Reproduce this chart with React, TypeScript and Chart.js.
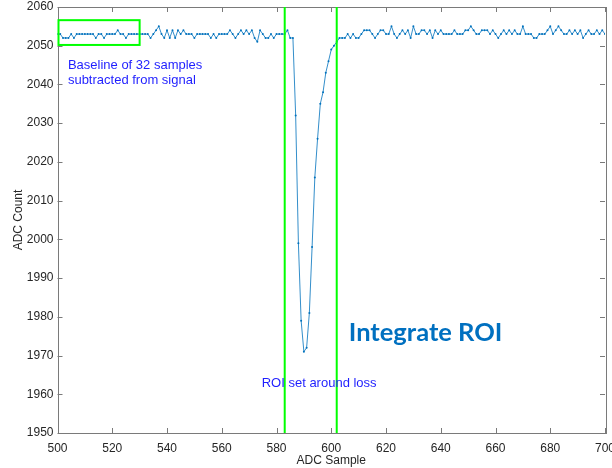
import { useEffect, useRef } from 'react';
import { Chart, registerables } from 'chart.js';

Chart.register(...registerables);

// ---- data ----
const FIRST_SAMPLE = 500;

const baselineCounts = [
  2053, 2053, 2052, 2052, 2052, 2053, 2052, 2053, 2053, 2053,
  2053, 2053, 2053, 2053, 2052, 2053, 2053, 2052, 2053, 2053,
  2053, 2053, 2054, 2053, 2053, 2052, 2053, 2053, 2053, 2053,
  2053, 2053,
];

const preLossCounts = [
  2053, 2053, 2052, 2053, 2054, 2055, 2053, 2052, 2054, 2052,
  2054, 2052, 2054, 2053, 2054, 2053, 2053, 2053, 2052, 2053,
  2053, 2053, 2053, 2053, 2052, 2053, 2052, 2053, 2053, 2053,
  2053, 2054, 2053,
  2052, 2053, 2054, 2053, 2054, 2053, 2054, 2052, 2051, 2054,
  2053, 2052, 2052, 2053, 2052, 2053, 2053, 2053, 2053, 2054,
  2052, 2052,
];

const lossCounts = [
  2032, 1999, 1979, 1971, 1972, 1981, 1998, 2016, 2026, 2035,
  2038, 2043, 2046, 2049, 2050, 2051,
];

const postLossCounts = [
  2052, 2052, 2052, 2053, 2052, 2053, 2052, 2052, 2053, 2054,
  2054, 2054, 2053, 2052, 2053, 2054, 2054, 2053, 2053, 2055,
  2053, 2052, 2053, 2054, 2053, 2054, 2052, 2055, 2053, 2053,
  2054,
  2054, 2053, 2054, 2052, 2054, 2053, 2054, 2053, 2053, 2053,
  2053, 2054, 2053, 2053, 2053, 2054, 2054, 2055, 2054, 2053,
  2053, 2054, 2054, 2054, 2053, 2054, 2053, 2052, 2053, 2054,
  2053, 2054, 2053,
  2054, 2053, 2053, 2055, 2053, 2053, 2053, 2052, 2052, 2053,
  2053, 2053, 2054, 2055, 2053, 2054, 2055, 2054, 2053, 2053,
  2054, 2053, 2054, 2053, 2054, 2052, 2053, 2054, 2053, 2053,
  2054, 2053, 2054, 2053,
];

const adcCounts = [...baselineCounts, ...preLossCounts, ...lossCounts, ...postLossCounts];

const xTickValues = [500, 520, 540, 560, 580, 600, 620, 640, 660, 680, 700];
const yTickValues = [1950, 1960, 1970, 1980, 1990, 2000, 2010, 2020, 2030, 2040, 2050, 2060];

const roiBounds = [583, 602];
const baselineBoxX = [500, 530];
const baselineBoxY = [2050.2, 2056.6];

// ---- styles ----
const AXIS_COLOR = '#7a7a7a';
const TEXT_COLOR = '#262626';
const LINE_COLOR = 'rgba(0,114,189,0.8)';
const POINT_COLOR = '#0072BD';
const GREEN = '#00ff00';
const NOTE_BLUE = '#1f1fff';
const FONT = '"Liberation Sans", Arial, sans-serif';

const annotationPlugin = {
  id: 'annotations',
  afterDatasetsDraw(chart: any) {
    const { ctx, chartArea, scales } = chart;
    const xs = scales.x;
    const ys = scales.y;
    ctx.save();

    // axes box
    ctx.strokeStyle = AXIS_COLOR;
    ctx.lineWidth = 1;
    ctx.strokeRect(
      Math.round(chartArea.left) + 0.5,
      Math.round(chartArea.top) + 0.5,
      Math.round(chartArea.right - chartArea.left),
      Math.round(chartArea.bottom - chartArea.top)
    );
    // inner ticks
    const tl = 5;
    ctx.beginPath();
    xTickValues.forEach((v) => {
      const px = Math.round(xs.getPixelForValue(v)) + 0.5;
      ctx.moveTo(px, chartArea.bottom);
      ctx.lineTo(px, chartArea.bottom - tl);
      ctx.moveTo(px, chartArea.top);
      ctx.lineTo(px, chartArea.top + tl);
    });
    yTickValues.forEach((v) => {
      const py = Math.round(ys.getPixelForValue(v)) + 0.5;
      ctx.moveTo(chartArea.left, py);
      ctx.lineTo(chartArea.left + tl, py);
      ctx.moveTo(chartArea.right, py);
      ctx.lineTo(chartArea.right - tl, py);
    });
    ctx.stroke();

    // ROI lines
    ctx.strokeStyle = GREEN;
    ctx.lineWidth = 2;
    roiBounds.forEach((v) => {
      const px = xs.getPixelForValue(v);
      ctx.beginPath();
      ctx.moveTo(px, chartArea.top);
      ctx.lineTo(px, chartArea.bottom);
      ctx.stroke();
    });

    // baseline box
    const bx0 = xs.getPixelForValue(baselineBoxX[0]);
    const bx1 = xs.getPixelForValue(baselineBoxX[1]);
    const by0 = ys.getPixelForValue(baselineBoxY[1]);
    const by1 = ys.getPixelForValue(baselineBoxY[0]);
    ctx.strokeRect(bx0 + 1, by0, bx1 - bx0 - 1, by1 - by0);

    // texts
    ctx.textBaseline = 'middle';
    ctx.textAlign = 'left';
    ctx.fillStyle = NOTE_BLUE;
    ctx.font = `13px ${FONT}`;
    ctx.fillText('Baseline of 32 samples', xs.getPixelForValue(503.8), ys.getPixelForValue(2045.0));
    ctx.fillText('subtracted from signal', xs.getPixelForValue(503.8), ys.getPixelForValue(2041.1));
    ctx.fillText('ROI set around loss', xs.getPixelForValue(574.6), ys.getPixelForValue(1962.9));

    ctx.fillStyle = '#0070C0';
    ctx.font = `bold 25.5px Lato, ${FONT}`;
    ctx.fillText('Integrate ROI', xs.getPixelForValue(606.4), ys.getPixelForValue(1975.8));

    ctx.restore();
  },
};

export default function App() {
  const canvasRef = useRef<HTMLCanvasElement | null>(null);

  useEffect(() => {
    if (!canvasRef.current) return;
    const chart = new Chart(canvasRef.current, {
      type: 'line',
      data: {
        datasets: [
          {
            data: adcCounts.map((v, i) => ({ x: FIRST_SAMPLE + i, y: v })),
            borderColor: LINE_COLOR,
            borderWidth: 1,
            pointRadius: 1,
            pointBackgroundColor: POINT_COLOR,
            pointBorderWidth: 0,
            tension: 0,
            fill: false,
          },
        ],
      },
      options: {
        responsive: false,
        animation: false,
        layout: { padding: { top: 7, right: 7, left: 0, bottom: 0 } },
        plugins: { legend: { display: false }, tooltip: { enabled: false } },
        scales: {
          x: {
            type: 'linear',
            min: 500,
            max: 700,
            afterBuildTicks: (s: any) => {
              s.ticks = xTickValues.map((v) => ({ value: v }));
            },
            afterFit: (s: any) => {
              s.height = 35;
              s.paddingLeft = 0;
              s.paddingRight = 0;
            },
            grid: { display: false, drawTicks: false },
            border: { display: false },
            ticks: {
              padding: 8,
              color: TEXT_COLOR,
              font: { family: FONT, size: 12 },
              maxRotation: 0,
              autoSkip: false,
              callback: (v: any) => String(v),
            },
            title: {
              display: true,
              text: 'ADC Sample',
              color: TEXT_COLOR,
              font: { family: FONT, size: 12 },
              padding: { top: 0, bottom: 0 },
            },
          },
          y: {
            type: 'linear',
            min: 1950,
            max: 2060,
            afterBuildTicks: (s: any) => {
              s.ticks = yTickValues.map((v) => ({ value: v }));
            },
            afterFit: (s: any) => {
              s.width = 57.5;
              s.paddingTop = 0;
              s.paddingBottom = 0;
            },
            grid: { display: false, drawTicks: false },
            border: { display: false },
            ticks: {
              padding: 4,
              color: TEXT_COLOR,
              font: { family: FONT, size: 12 },
              autoSkip: false,
              callback: (v: any) => String(v),
            },
            title: {
              display: true,
              text: 'ADC Count',
              color: TEXT_COLOR,
              font: { family: FONT, size: 12 },
              padding: { top: 11, bottom: 0 },
            },
          },
        },
      } as any,
      plugins: [annotationPlugin],
    });
    return () => chart.destroy();
  }, []);

  return (
    <div style={{ position: 'absolute', left: 0, top: 0, width: 612, height: 468, background: '#fff' }}>
      <canvas ref={canvasRef} width={612} height={468} style={{ display: 'block' }} />
    </div>
  );
}
